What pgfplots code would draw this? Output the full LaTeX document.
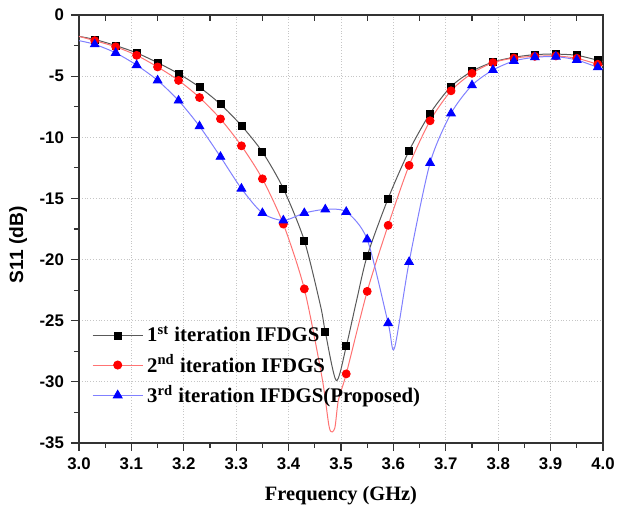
\documentclass[border=0pt]{standalone}
\usepackage{fontspec}
\setmainfont{Liberation Serif}
\setsansfont{Liberation Sans}
\usepackage{pgfplots}
\pgfplotsset{compat=1.18}

\begin{document}
\begin{tikzpicture}
\begin{axis}[name=ax, scale only axis, width=262pt, height=214pt,
  xmin=3, xmax=4, ymin=-35, ymax=0,
  xtick={3.0,3.1,3.2,3.3,3.4,3.5,3.6,3.7,3.8,3.9,4.0},
  ytick={-35,-30,-25,-20,-15,-10,-5,0},
  minor x tick num=1, minor y tick num=1,
  xtick pos=bottom, ytick pos=left, tick align=outside,
  major tick length=4pt, minor tick length=2.5pt,
  axis line style={line width=0.7pt, black!80},
  every tick/.style={line width=0.6pt, black!80},
  grid=major, major grid style={densely dotted, gray!45},
  /pgf/number format/assume math mode=true,
  tick label style={font=\sffamily\bfseries\fontsize{8.4}{9}\selectfont},
  xticklabel style={/pgf/number format/.cd, fixed, fixed zerofill, precision=1},
  xlabel={Frequency (GHz)},
  ylabel={S11 (dB)},
  xlabel style={font=\rmfamily\bfseries\fontsize{10.2}{12}\selectfont, at={(axis description cs:0.5,-0.124)}, anchor=center},
  ylabel style={font=\sffamily\bfseries\fontsize{9.6}{11}\selectfont, at={(axis description cs:-0.116,0.463)}, anchor=center},
  legend image code/.code={\draw[#1,mark repeat=2,mark phase=2] plot coordinates {(0pt,0pt)(12.5pt,0pt)(25pt,0pt)};},
  legend style={draw=none, fill=none, at={(axis description cs:0.013,0.292)}, anchor=north west,
    font=\rmfamily\bfseries\fontsize{10.4}{12}\selectfont, row sep=1pt},
  legend cell align=left,
]
% lines
\addplot[black!65, line width=0.5pt, smooth, tension=0.45, forget plot] coordinates {
 (3.00,-1.75) (3.03,-2.0) (3.07,-2.5) (3.11,-3.1) (3.15,-3.9) (3.19,-4.8) (3.23,-5.9)
 (3.27,-7.3) (3.31,-9.05) (3.35,-11.2) (3.39,-14.2) (3.43,-18.45) (3.461,-23.8) (3.47,-25.9)
 (3.491,-29.9) (3.51,-27.1) (3.53,-23.3) (3.55,-19.7) (3.59,-15.0) (3.63,-11.1) (3.67,-8.05)
 (3.71,-5.85) (3.75,-4.6) (3.79,-3.85) (3.83,-3.46) (3.87,-3.24) (3.91,-3.2) (3.95,-3.3)
 (3.99,-3.7) (4.00,-3.8)};
\addplot[red!55, line width=0.5pt, smooth, tension=0.45, forget plot] coordinates {
 (3.00,-1.75) (3.03,-2.1) (3.07,-2.6) (3.11,-3.3) (3.15,-4.25) (3.19,-5.35) (3.23,-6.75)
 (3.27,-8.5) (3.31,-10.7) (3.35,-13.4) (3.39,-17.1) (3.43,-22.4) (3.464,-29.7) (3.478,-33.8)
 (3.488,-33.8) (3.495,-31.5) (3.51,-29.35) (3.55,-22.6) (3.59,-17.2) (3.63,-12.3) (3.67,-8.65)
 (3.71,-6.2) (3.75,-4.77) (3.79,-3.9) (3.83,-3.52) (3.87,-3.38) (3.91,-3.35) (3.95,-3.54)
 (3.99,-4.03) (4.00,-4.15)};
\addplot[blue!50, line width=0.5pt, smooth, tension=0.45, forget plot] coordinates {
 (3.00,-2.1) (3.03,-2.4) (3.07,-3.1) (3.11,-4.1) (3.15,-5.35) (3.19,-7.0) (3.23,-9.1)
 (3.27,-11.6) (3.31,-14.2) (3.35,-16.2) (3.39,-16.8) (3.43,-16.2) (3.47,-15.9) (3.51,-16.1)
 (3.55,-18.35) (3.59,-25.2) (3.602,-27.25) (3.63,-20.2) (3.67,-12.1) (3.71,-8.05) (3.75,-5.75)
 (3.79,-4.5) (3.83,-3.76) (3.87,-3.46) (3.91,-3.41) (3.95,-3.68) (3.99,-4.28) (4.00,-4.4)};
% markers
\addplot[only marks, mark=square*, mark size=1.75pt, black, forget plot] coordinates {
 (3.03,-2.0) (3.07,-2.5) (3.11,-3.1) (3.15,-3.9) (3.19,-4.8) (3.23,-5.9) (3.27,-7.3)
 (3.31,-9.05) (3.35,-11.2) (3.39,-14.2) (3.43,-18.45) (3.47,-25.9) (3.51,-27.1) (3.55,-19.7)
 (3.59,-15.0) (3.63,-11.1) (3.67,-8.05) (3.71,-5.85) (3.75,-4.6) (3.79,-3.85) (3.83,-3.46)
 (3.87,-3.24) (3.91,-3.2) (3.95,-3.3) (3.99,-3.7)};
\addplot[only marks, mark=*, mark size=2.0pt, red, forget plot] coordinates {
 (3.03,-2.1) (3.07,-2.6) (3.11,-3.3) (3.15,-4.25) (3.19,-5.35) (3.23,-6.75) (3.27,-8.5)
 (3.31,-10.7) (3.35,-13.4) (3.39,-17.1) (3.43,-22.4) (3.51,-29.35) (3.55,-22.6)
 (3.59,-17.2) (3.63,-12.3) (3.67,-8.65) (3.71,-6.2) (3.75,-4.77) (3.79,-3.9) (3.83,-3.52)
 (3.87,-3.38) (3.91,-3.35) (3.95,-3.54) (3.99,-4.03)};
\addplot[only marks, mark=triangle*, mark size=2.5pt, blue, forget plot] coordinates {
 (3.03,-2.4) (3.07,-3.1) (3.11,-4.1) (3.15,-5.35) (3.19,-7.0) (3.23,-9.1) (3.27,-11.6)
 (3.31,-14.2) (3.35,-16.2) (3.39,-16.8) (3.43,-16.2) (3.47,-15.9) (3.51,-16.1) (3.55,-18.35)
 (3.59,-25.2) (3.63,-20.2) (3.67,-12.1) (3.71,-8.05) (3.75,-5.75) (3.79,-4.5) (3.83,-3.76)
 (3.87,-3.46) (3.91,-3.41) (3.95,-3.68) (3.99,-4.28)};
% legend
\addlegendimage{black!65, line width=0.5pt, mark=square*, mark size=1.75pt, mark options={black}}
\addlegendentry{1\textsuperscript{st} iteration IFDGS}
\addlegendimage{red!55, line width=0.5pt, mark=*, mark size=2.0pt, mark options={red}}
\addlegendentry{2\textsuperscript{nd} iteration IFDGS}
\addlegendimage{blue!50, line width=0.5pt, mark=triangle*, mark size=2.5pt, mark options={blue}}
\addlegendentry{3\textsuperscript{rd} iteration IFDGS(Proposed)}
\end{axis}
\begin{axis}[scale only axis, width=262pt, height=214pt,
  xmin=3, xmax=4, ymin=-35, ymax=0,
  axis x line*=top, axis y line=none,
  xtick={3.05,3.15,3.25,3.35,3.45,3.55,3.65,3.75,3.85,3.95}, xticklabels={},
  tick align=inside, major tick length=3pt,
  axis line style={line width=0.7pt, black!80},
  every tick/.style={line width=0.6pt, black!80},
]
\end{axis}
\pgfresetboundingbox
\path[use as bounding box] ([shift={(-39.5pt,-36pt)}]ax.south west) rectangle ([shift={(7pt,7.5pt)}]ax.north east);
\end{tikzpicture}
\end{document}
